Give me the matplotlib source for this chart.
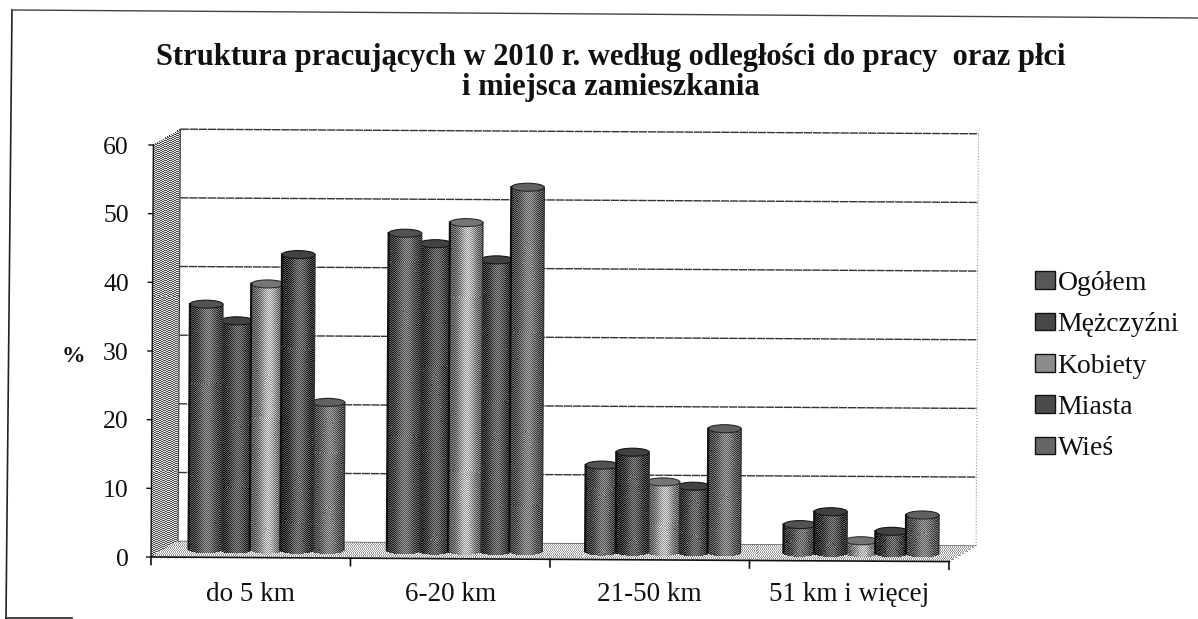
from __future__ import annotations

import matplotlib

matplotlib.use("Agg")

import matplotlib.pyplot as plt
import numpy as np
from matplotlib.lines import Line2D
from matplotlib.patches import Ellipse, Patch
from matplotlib.transforms import Affine2D


CATEGORIES = ["do 5 km", "6-20 km", "21-50 km", "51 km i więcej"]
SERIES = ["Ogółem", "Mężczyźni", "Kobiety", "Miasta", "Wieś"]
OGOLEM = [35.7, 46.2, 12.6, 4.1]
MEZCZYZNI = [33.3, 44.7, 14.5, 6.0]
KOBIETY = [38.7, 47.8, 10.2, 1.8]
MIASTA = [43.0, 42.4, 9.6, 3.2]
WIES = [21.5, 53.0, 18.0, 5.6]
Y_TICKS = [0, 10, 20, 30, 40, 50, 60]
TITLE = "Struktura pracujących w 2010 r. według odległości do pracy  oraz płci\ni miejsca zamieszkania"

SERIES_VALUES = [OGOLEM, MEZCZYZNI, KOBIETY, MIASTA, WIES]
# edge / centre grey of each cylinder after photocopying
SHADES = [(0.22, 0.47), (0.16, 0.40), (0.36, 0.74), (0.16, 0.42), (0.28, 0.52)]

W, H = 1198, 619
LEFT, RIGHT, BASE, TOP = 151, 949, 557, 145
PX_X = (RIGHT - LEFT) / 4
PX_Y = (BASE - TOP) / 60
BACK_X = 27 / PX_X
BACK_Y = 16 / PX_Y
BAR_SPACING = 30.6 / PX_X
BAR_RADIUS = 16.5 / PX_X
ELLIPSE_RY = 4 / PX_Y
FIRST_BAR = (205 - LEFT) / PX_X
GROUP_STEP = 198.3 / PX_X
FLOOR_SHIFT = 8 / PX_Y


def grey(level: float) -> tuple[float, float, float]:
    return (level, level, level)


def dither(values: np.ndarray, amount: float = 0.15) -> np.ndarray:
    """Add a fixed checker pattern so the fills look like a photocopy."""
    rows, cols = np.indices(values.shape)
    pattern = np.where((rows + cols) % 2 == 0, amount, -amount)
    return np.clip(values + pattern, 0, 1)


def draw_quad(ax, tilt, corners, level, amount, rows, cols) -> None:
    """Fill a four sided wall with a dithered mesh: corners go bl, br, tr, tl."""
    (x0, y0), (x1, y1), (x2, y2), (x3, y3) = corners
    s, t = np.meshgrid(np.linspace(0, 1, cols + 1), np.linspace(0, 1, rows + 1))
    x = (1 - t) * ((1 - s) * x0 + s * x1) + t * ((1 - s) * x3 + s * x2)
    y = (1 - t) * ((1 - s) * y0 + s * y1) + t * ((1 - s) * y3 + s * y2)
    colour = dither(np.full((rows, cols), level), amount)
    ax.pcolormesh(x, y, colour, cmap="gray", vmin=0, vmax=1, shading="flat",
                  transform=tilt, zorder=1, antialiased=False, clip_on=False)


def draw_cylinder(ax, tilt, centre, value, shade, zorder) -> None:
    edge, middle = shade
    u = np.linspace(-1, 1, 34)
    v = np.linspace(0, 1, max(int(value * PX_Y), 3))
    curve = ELLIPSE_RY * np.sqrt(1 - u**2)
    x = np.tile(centre + u * BAR_RADIUS, (len(v), 1))
    y = FLOOR_SHIFT - curve + np.outer(v, np.full_like(u, value))

    u_mid = (u[:-1] + u[1:]) / 2
    profile = edge + (middle - edge) * np.exp(-((u_mid - 0.1) / 0.55) ** 2)
    colour = dither(np.tile(profile, (len(v) - 1, 1)))
    ax.pcolormesh(x, y, colour, cmap="gray", vmin=0, vmax=1, shading="flat",
                  transform=tilt, zorder=zorder, antialiased=False)

    ax.add_patch(Ellipse((centre, value + FLOOR_SHIFT), 2 * BAR_RADIUS, 2 * ELLIPSE_RY,
                         facecolor=grey(edge + 0.1), edgecolor=grey(edge * 0.5), linewidth=0.8,
                         transform=tilt, zorder=zorder + 0.1))
    # dark shaded sides of the cylinder
    ax.plot([centre - BAR_RADIUS] * 2, [FLOOR_SHIFT, value + FLOOR_SHIFT], color="#111111",
            linewidth=1.6, transform=tilt, zorder=zorder + 0.1)
    ax.plot([centre + BAR_RADIUS] * 2, [FLOOR_SHIFT, value + FLOOR_SHIFT], color="#333333",
            linewidth=1.0, transform=tilt, zorder=zorder + 0.1)


def main() -> None:
    plt.rcParams["font.family"] = ["Liberation Serif", "DejaVu Serif"]
    fig = plt.figure(figsize=(W / 100, H / 100), dpi=100)
    ax = fig.add_axes([LEFT / W, 1 - BASE / H, (RIGHT - LEFT) / W, (BASE - TOP) / H])
    ax.patch.set_visible(False)
    for spine in ax.spines.values():
        spine.set_visible(False)

    # the page was scanned slightly crooked
    tilt = ax.transData + Affine2D().rotate_deg_around(LEFT, H - BASE, -0.33)

    # walls and floor
    draw_quad(ax, tilt, [(0, 0), (BACK_X, BACK_Y), (BACK_X, 60 + BACK_Y), (0, 60)], 0.6, 0.3, 412, 27)
    draw_quad(ax, tilt, [(0, 0), (4, 0), (4 + BACK_X, BACK_Y), (BACK_X, BACK_Y)], 0.8, 0.2, 16, 798)

    for tick in Y_TICKS[1:]:
        ax.plot([BACK_X, 4 + BACK_X], [tick + BACK_Y] * 2, color="#333333", linewidth=1.0,
                linestyle=(0, (6, 0.6)), transform=tilt, zorder=2, clip_on=False)
    ax.plot([4 + BACK_X] * 2, [BACK_Y, 60 + BACK_Y], color="#999999", linewidth=0.8, linestyle=":",
            transform=tilt, zorder=2, clip_on=False)
    ax.plot([BACK_X, 4 + BACK_X], [BACK_Y, BACK_Y], color="#666666", linewidth=0.6, transform=tilt,
            zorder=2, clip_on=False)
    ax.plot([BACK_X, BACK_X], [BACK_Y, 60 + BACK_Y], color="#444444", linewidth=0.8, transform=tilt,
            zorder=2, clip_on=False)

    # axis lines and tick marks follow the tilt as well
    ax.plot([0, 4], [0, 0], color="#111111", linewidth=1.2, transform=tilt, zorder=3, clip_on=False)
    ax.plot([0, 0], [0, 60], color="#111111", linewidth=1.0, transform=tilt, zorder=3, clip_on=False)
    for pos in range(5):
        ax.plot([pos, pos], [0, -1.1], color="#111111", linewidth=1.2, transform=tilt, zorder=3, clip_on=False)
    for tick in Y_TICKS:
        ax.plot([0, -0.022], [tick, tick], color="#111111", linewidth=1.0, transform=tilt, zorder=3, clip_on=False)

    # taller cylinders were drawn in front of their neighbours
    for group, _ in enumerate(CATEGORIES):
        start = FIRST_BAR + group * GROUP_STEP
        heights = [values[group] for values in SERIES_VALUES]
        order = np.argsort(heights)
        for rank, index in enumerate(order):
            draw_cylinder(ax, tilt, start + index * BAR_SPACING, heights[index], SHADES[index], 10 + rank)

    ax.set_xticks([0.5, 1.5, 2.5, 3.5], CATEGORIES)
    ax.set_yticks(Y_TICKS)
    ax.set_xlim(0, 4)
    ax.set_ylim(0, 60)
    ax.tick_params(axis="x", length=0, pad=18, labelsize=19.5, labelcolor="#111111")
    ax.tick_params(axis="y", length=0, pad=16, labelsize=18.5, labelcolor="#111111")

    fig.text(73 / W, 1 - 357 / H, "%", fontsize=17, fontweight="bold", ha="center", va="center", color="#111111")
    fig.text(611 / W, 1 - 72.5 / H, TITLE, fontsize=22, fontweight="bold", ha="center", va="center",
             linespacing=1.07, color="#111111")

    handles = [Patch(facecolor=grey(np.mean(shade)), edgecolor="#111111", linewidth=1.0) for shade in SHADES]
    fig.legend(handles, SERIES, loc="center left", bbox_to_anchor=(1021 / W, 1 - 366 / H), frameon=False,
               fontsize=20, handlelength=0.72, handleheight=0.6, handletextpad=0.1, labelspacing=0.59,
               borderpad=0, labelcolor="#111111")

    # page frame, only partly visible on the scan
    fig.add_artist(Line2D([12 / W, 6 / W], [1 - 10 / H, 1 - 618 / H], color="#222222", linewidth=1.2))
    fig.add_artist(Line2D([6 / W, 72 / W], [1 - 618 / H, 1 - 618 / H], color="#222222", linewidth=1.2))
    fig.add_artist(Line2D([12 / W, 1198 / W], [1 - 10 / H, 1 - 18 / H], color="#444444", linewidth=1.0))

    fig.savefig("out.png", dpi=100)
    plt.close(fig)


if __name__ == "__main__":
    main()
